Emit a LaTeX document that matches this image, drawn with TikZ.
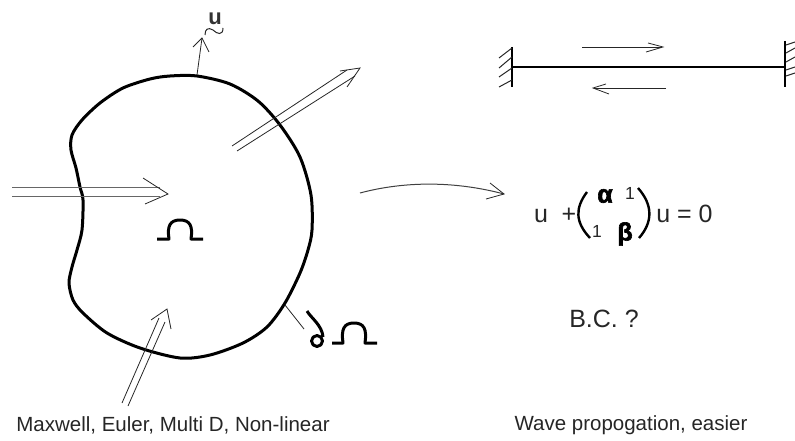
\documentclass[tikz,border=0pt]{standalone}
\usepackage{fontspec}
\setmainfont{Liberation Sans}
\newfontfamily\greekbold[FakeBold=2.5]{Liberation Sans}
\tikzset{
  x=1pt,y=-1pt,
  thinline/.style={line width=0.8pt,black!85},
  greyline/.style={line width=1pt,black!60},
  outline/.style={line width=3pt,line join=round,line cap=round},
  glyph/.style={line width=3pt,line join=round},
  eqtext/.style={inner sep=0pt,anchor=base,font=\fontsize{25}{25}\selectfont,black!85},
  smalltext/.style={inner sep=0pt,anchor=base,font=\fontsize{17.5}{17.5}\selectfont,black!85},
  captext/.style={inner sep=0pt,anchor=base,font=\fontsize{20.5}{20.5}\selectfont,black!85},
}
\begin{document}
\begin{tikzpicture}
\useasboundingbox (0,0) rectangle (795,441);
% outline
\draw[outline] plot[smooth cycle,tension=0.5] coordinates {
 (197,76) (230,84) (258,101) (280,125) (300,157) (311,195) (312,230) (308,250) (300,273) (285,303)
 (267,327) (243,343) (210,355) (180,358) (140,348) (107,333) (83,313) (73,300) (69,283) (72,267)
 (77,250) (82,230) (83,200) (80,187) (76,168) (71,150) (72,135) (82,120) (100,103) (123,88) (150,79) (170,76)};
% u arrow
\draw[thinline] (197,75)--(202,38);
\draw[thinline] (193,47)--(202,38)--(209,52);
\node[inner sep=0pt,anchor=base,font=\bfseries\fontsize{22}{22}\selectfont,black!80] (ulabel) at (215,25) {u};
\draw[thinline,line width=1pt] (205,35) .. controls (205,29) and (208,27) .. (213,30) .. controls (217,34) and (223,36) .. (223,28);
% outgoing double arrow
\draw[thinline] (232,146)--(347,70);
\draw[thinline] (237,151)--(355,76);
\draw[thinline] (340,71)--(360,68)--(347,87);
% horizontal double arrow
\draw[greyline] (12,187)--(160,187);
\draw[greyline] (12,196)--(160,196);
\draw[thinline] (143,178)--(168,194)--(145,204);
% lower double arrow
\draw[thinline] (122,403)--(159,318);
\draw[thinline] (128,406)--(165,322);
\draw[thinline] (151,320)--(167,309)--(171,329);
% Omega
\draw[glyph] (157,239)--(169,239) .. controls (167,226) and (170,220) .. (180,220) .. controls (190,220) and (193,226) .. (191,239)--(203,239);
% boundary label
\draw[thinline] (285,305)--(304,329);
\draw[glyph] (307,311) .. controls (311,318) and (322,325) .. (323,337);
\draw[glyph] (317,341) circle (5.5);
\draw[glyph] (332,343)--(343,343) .. controls (341,329) and (344,323) .. (354,323) .. controls (364,323) and (367,329) .. (365,343)--(377,343);
% curved arrow
\draw[line width=1pt,black!75] (360,193) .. controls (405,181) and (455,181) .. (504,194);
\draw[thinline] (490,183)--(504,194)--(486,199);
% beam
\draw[line width=2pt] (512,67)--(785,67);
\draw[line width=2pt] (512,47)--(512,87);
\draw[line width=2pt] (785,41)--(785,87);
\foreach \a/\b in {58/48,68/57,77/68,87/80}{
  \draw[thinline,line width=1pt] (499,\a)--(512,\b);
}
\foreach \a/\b in {45/42,53/48,62/57,70/67,76/73}{
  \draw[thinline,line width=1pt] (786,\a)--(795,\b);
}
\draw[thinline] (582,47)--(662,47);
\draw[thinline] (648,43)--(663,47)--(646,52);
\draw[thinline] (666,88)--(594,88);
\draw[thinline] (606,84)--(593,88)--(609,94);
% equation
\node[eqtext] (eqa) at (541,222) {u};
\node[eqtext] (eqb) at (569,222) {+};
\draw[line width=2.4pt] (587,192) .. controls (575,208) and (575,222) .. (590,238);
\draw[line width=2.4pt] (638,188) .. controls (653,205) and (653,222) .. (639,238);
\node[inner sep=0pt,font=\greekbold\bfseries\fontsize{25}{25}\selectfont] (alpha) at (605,196) {α};
\node[smalltext] (one) at (630,199) {1};
\node[smalltext] (oneb) at (597,237) {1};
\node[inner sep=0pt,font=\greekbold\bfseries\fontsize{25}{25}\selectfont] (beta) at (625,234) {β};
\node[eqtext] (eqc) at (684.5,222) {u = 0};
\node[eqtext] (bc) at (604,327) {B.C. ?};
\node[captext] (capa) at (173,431) {Maxwell, Euler, Multi D, Non-linear};
\node[captext] (capb) at (631,430) {Wave propogation, easier};
\end{tikzpicture}
\end{document}
